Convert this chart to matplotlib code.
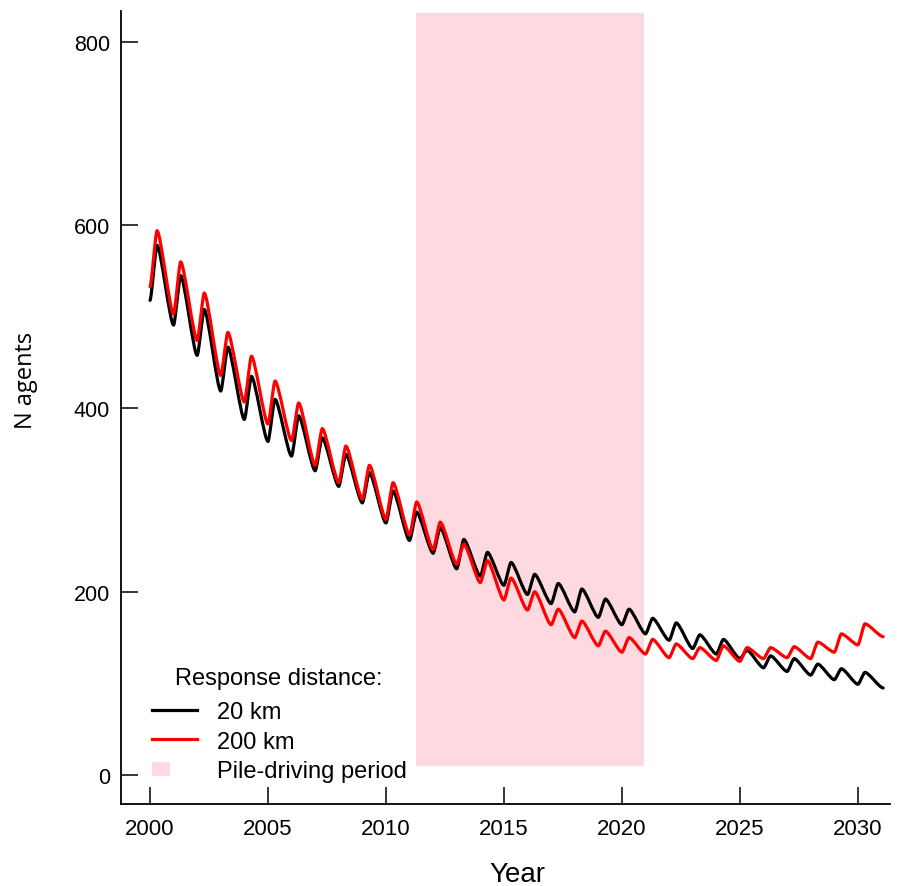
import numpy as np
import matplotlib
matplotlib.use("Agg")
import matplotlib.pyplot as plt
from matplotlib.patches import Rectangle, PathPatch
from matplotlib.path import Path
from matplotlib.lines import Line2D
from matplotlib.legend_handler import HandlerBase

# ---------------- data ----------------
years = list(range(2000, 2032))          # trough years (last = series end)
end_year = 2031.07
peak_phase = 0.3                          # peaks occur ~0.3 yr after trough

black_trough = [518, 491, 458, 419, 388, 364, 348, 332, 315, 297, 275, 256, 242, 225,
                217, 207, 197, 187, 178, 172, 164, 154, 147, 138, 132, 127, 117, 113,
                109, 104, 99, 95]
black_peak = [578, 545, 508, 467, 435, 410, 392, 368, 350, 330, 310, 287, 270, 257,
              243, 232, 219, 209, 203, 192, 181, 171, 166, 153, 148, 136, 130, 127,
              121, 116, 112]
red_trough = [533, 503, 474, 436, 407, 383, 365, 338, 319, 301, 279, 262, 246, 230,
              210, 191, 180, 164, 150, 141, 134, 132, 128, 127, 125, 124, 127, 128,
              127, 134, 142, 151]
red_peak = [594, 560, 526, 483, 457, 430, 406, 378, 359, 338, 319, 298, 276, 252,
            234, 215, 200, 181, 168, 157, 150, 148, 143, 139, 141, 139, 139, 140,
            145, 154, 165]

pile_start, pile_end = 2011.27, 2020.93
pile_ymin, pile_ymax = 10, 832

series_labels = ["20 km", "200 km"]
patch_label = "Pile-driving period"
legend_title = "Response distance:"
xticks = [2000, 2005, 2010, 2015, 2020, 2025, 2030]
yticks = [0, 200, 400, 600, 800]


def build(troughs, peaks):
    t_tr = np.array(years, dtype=float)
    t_tr[-1] = end_year
    t, v = [], []
    for i in range(len(peaks)):
        t += [t_tr[i], years[i] + peak_phase]
        v += [troughs[i], peaks[i]]
    t.append(t_tr[-1])
    v.append(troughs[-1])
    return np.array(t), np.array(v)


def smooth_path(t, v, arm=0.22):
    """Bezier path through the read points with flat tangents at the extremes."""
    verts = [(t[0], v[0])]
    codes = [Path.MOVETO]
    for i in range(len(t) - 1):
        dt = t[i + 1] - t[i]
        verts += [(t[i] + arm * dt, v[i]), (t[i + 1] - arm * dt, v[i + 1]),
                  (t[i + 1], v[i + 1])]
        codes += [Path.CURVE4] * 3
    return Path(verts, codes)


tb, vb = build(black_trough, black_peak)
trd, vrd = build(red_trough, red_peak)

pink = "#FFD9E0"
lw = 2.3

fig = plt.figure(figsize=(9.04, 8.87), dpi=100)
ax = fig.add_axes([0.1338, 0.0924, 0.8507, 0.8941])

ax.add_patch(Rectangle((pile_start, pile_ymin), pile_end - pile_start,
                       pile_ymax - pile_ymin, facecolor=pink, edgecolor="none", zorder=1))
ax.add_patch(PathPatch(smooth_path(tb, vb), facecolor="none", edgecolor="black",
                       lw=lw, capstyle="round", joinstyle="round", zorder=3))
ax.add_patch(PathPatch(smooth_path(trd, vrd), facecolor="none", edgecolor="#FF0000",
                       lw=lw, capstyle="round", joinstyle="round", zorder=4))

ax.set_xlim(1998.77, 2031.36)
ax.set_ylim(-31.7, 833.8)
for s in ["top", "right"]:
    ax.spines[s].set_visible(False)
for s in ["left", "bottom"]:
    ax.spines[s].set_linewidth(1.3)

ax.set_xticks(xticks)
ax.set_yticks(yticks)
ax.tick_params(axis="both", direction="in", length=12, width=1.1)
ax.tick_params(axis="y", pad=8, labelsize=15.5)
ax.tick_params(axis="x", pad=10, labelsize=16)
for lab in ax.get_xticklabels() + ax.get_yticklabels():
    lab.set_family("Liberation Sans")

ax.set_xlabel("Year", fontsize=20, family="Liberation Sans")
ax.xaxis.set_label_coords(0.515, -0.072)
ax.set_ylabel("N agents", fontsize=17, family="Open Sans")
ax.yaxis.label.set_va("center")
ax.yaxis.set_label_coords(-0.123, 0.535)


class SquareHandler(HandlerBase):
    def create_artists(self, legend, orig_handle, xdescent, ydescent, width, height,
                       fontsize, trans):
        w = 0.40 * width
        h = 0.85 * height
        r = Rectangle((-xdescent, -ydescent + (height - h) / 2), w, h,
                      facecolor=orig_handle.get_facecolor(), edgecolor="none",
                      transform=trans)
        return [r]


handles = [Line2D([], [], color="black", lw=lw),
           Line2D([], [], color="#FF0000", lw=lw),
           Rectangle((0, 0), 1, 1, facecolor=pink)]
leg = ax.legend(handles, series_labels + [patch_label], title=legend_title,
                loc="upper left", bbox_to_anchor=(0.040, 0.173), frameon=False,
                prop={"family": "Liberation Sans", "size": 17},
                title_fontproperties={"family": "Liberation Sans", "size": 17},
                handlelength=1.9, handletextpad=0.85, labelspacing=0.31,
                borderpad=0, borderaxespad=0,
                handler_map={Rectangle: SquareHandler()})
leg._legend_box.sep = 9

fig.savefig("out.png", dpi=100)
